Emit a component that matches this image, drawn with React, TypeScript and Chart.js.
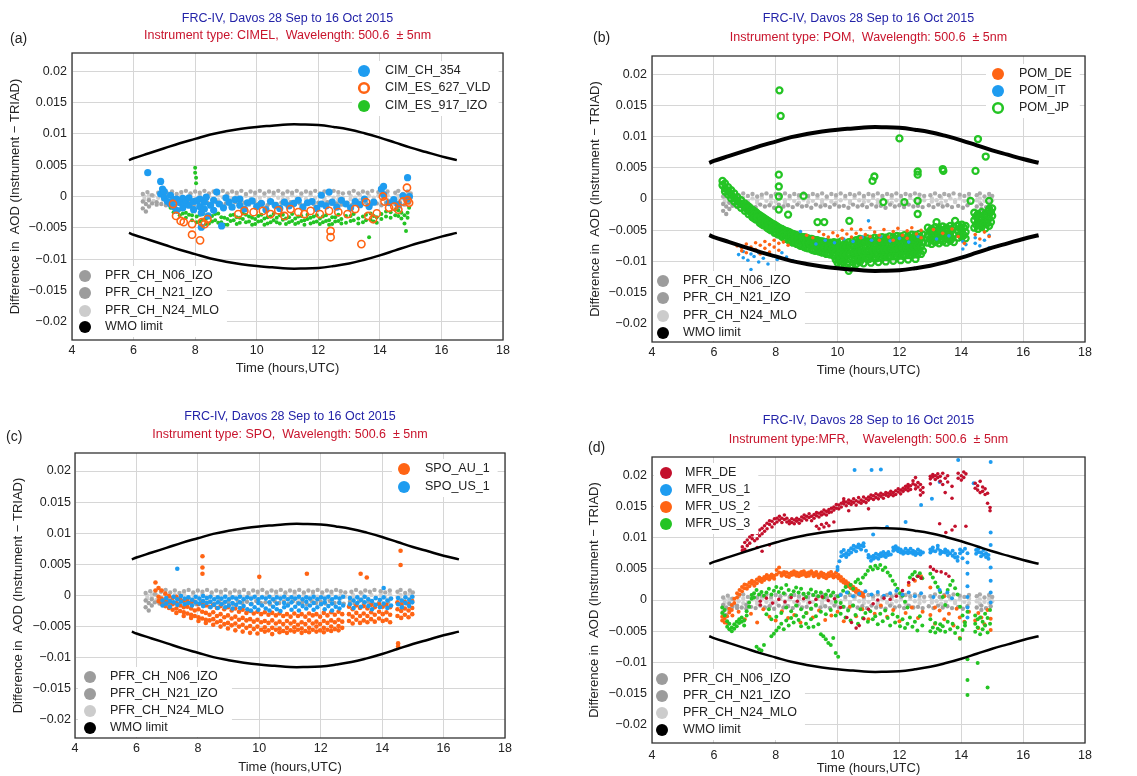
import React, { useEffect, useRef } from 'react';
import { Chart, registerables } from 'chart.js';
Chart.register(...registerables);

type Row = number[];

// ---------- axes ----------
const xTicks = [4, 6, 8, 10, 12, 14, 16, 18];
const xTickLabels = ['4', '6', '8', '10', '12', '14', '16', '18'];
const yTicks = [-0.02, -0.015, -0.01, -0.005, 0, 0.005, 0.01, 0.015, 0.02];
const yTickLabels = ['−0.02', '−0.015', '−0.01', '−0.005', '0', '0.005', '0.01', '0.015', '0.02'];
const yMin = -0.0229;
const yMax = 0.0229;

// ---------- WMO limit ----------
const wmoX = [5.85, 6, 6.5, 7, 7.5, 8, 8.5, 9, 9.5, 10, 10.5, 11, 11.5, 12, 12.5, 13, 13.5, 14, 14.5, 15, 15.5, 16, 16.5];
const wmoUpper = [.0058, .0061, .0069, .0077, .0085, .0092, .0099, .0104, .0108, .0111, .0113, .0115, .0115, .0114, .0111, .0107, .0101, .0094, .0086, .0078, .0071, .0064, .0058];
const wmoLower = [-.0058, -.0061, -.0069, -.0077, -.0085, -.0092, -.0099, -.0104, -.0108, -.0111, -.0113, -.0115, -.0115, -.0114, -.0111, -.0107, -.0101, -.0094, -.0086, -.0078, -.0071, -.0064, -.0058];

// ---------- reference PFR (rows: [hour, diff, diff...]) ----------
const pfrN06: Row[] = [[6.3,-.0008,-.0019],[6.4,-.0012,-.0024],[6.5,-.0006,-.0016],[6.6,-.0011],[6.75,-.0009,-.0013],[6.9,-.0012],[7.05,-.0008,-.0014],[7.2,-.0011],[7.35,-.0013],[7.5,-.0009],[7.65,-.0012],[7.8,-.001],[7.95,-.0014],[8.1,-.0009],[8.25,-.0012],[8.4,-.001],[8.55,-.0013],[8.7,-.0009],[8.85,-.0012],[9.0,-.0011],[9.15,-.0014],[9.3,-.0009],[9.45,-.0012],[9.6,-.001],[9.75,-.0013],[9.9,-.0009],[10.05,-.0012],[10.2,-.0011],[10.35,-.0014],[10.5,-.0009],[10.65,-.0012],[10.8,-.001],[10.95,-.0013],[11.1,-.0009],[11.25,-.0012],[11.4,-.0011],[11.55,-.0014],[11.7,-.0009],[11.85,-.0012],[12.0,-.001],[12.15,-.0013],[12.3,-.0009],[12.45,-.0012],[12.6,-.0011],[12.75,-.0013],[12.95,-.001],[13.1,-.0013],[13.25,-.0009],[13.4,-.0012],[13.55,-.001],[13.7,-.0013],[13.9,-.0011],[14.05,-.0014],[14.2,-.001],[14.5,-.0012],[14.65,-.0009,-.0016],[14.8,-.0013],[14.95,-.001]];
const pfrN21: Row[] = [[6.3,.0004],[6.45,.0007],[6.6,.0002],[6.8,.0006],[6.95,.0009],[7.1,.0005],[7.25,.0008],[7.4,.0004],[7.55,.0007],[7.7,.0009],[7.85,.0005],[8.0,.0008],[8.15,.0006],[8.3,.0009],[8.45,.0005],[8.6,.0008],[8.75,.0006],[8.9,.0009],[9.05,.0005],[9.2,.0008],[9.35,.0006],[9.5,.0009],[9.65,.0004],[9.8,.0008],[9.95,.0006],[10.1,.0009],[10.25,.0005],[10.4,.0008],[10.55,.0006],[10.7,.0009],[10.85,.0005],[11.0,.0008],[11.15,.0006],[11.3,.0009],[11.45,.0005],[11.6,.0008],[11.75,.0006],[11.9,.0009],[12.05,.0005],[12.2,.0008],[12.35,.0006],[12.5,.0009],[12.65,.0007],[12.8,.0005],[13.0,.0006],[13.15,.0009],[13.3,.0005],[13.45,.0008],[13.6,.0006],[13.75,.0009],[13.95,.0007],[14.1,.0005],[14.25,.0008],[14.5,.0006],[14.6,.0009],[14.75,.0004],[14.9,.0008],[15.0,.0005]];
const pfrN24: Row[] = [[6.35,0,-.0005],[6.5,-.0003,.0002],[6.65,.0001,-.0007],[6.8,-.0002],[6.95,.0002,-.0005],[7.1,-.0004],[7.25,.0001],[7.4,-.0002,-.0006],[7.55,.0002],[7.7,-.0003],[7.85,.0001,-.0006],[8.0,-.0004],[8.15,.0002],[8.3,-.0002,-.0006],[8.45,.0001],[8.6,-.0003],[8.75,.0002,-.0006],[8.9,-.0001],[9.05,.0001,-.0005],[9.2,-.0003],[9.35,.0002],[9.5,-.0002,-.0006],[9.65,.0001],[9.8,-.0004],[9.95,.0002,-.0006],[10.1,-.0002],[10.25,.0001],[10.4,-.0003,-.0006],[10.55,.0002],[10.7,-.0002],[10.85,.0001,-.0005],[11.0,-.0003],[11.15,.0002],[11.3,-.0002,-.0006],[11.45,.0001],[11.6,-.0004],[11.75,.0002,-.0006],[11.9,-.0002],[12.05,.0001],[12.2,-.0003,-.0006],[12.35,.0002],[12.5,-.0002],[12.65,.0001,-.0005],[12.8,-.0002],[13.05,.0001,-.0004],[13.2,-.0002],[13.35,.0002,-.0006],[13.5,-.0003],[13.65,.0001],[13.8,-.0002,-.0005],[13.95,.0001],[14.1,-.0003],[14.25,.0002,-.0005],[14.5,-.0002],[14.6,.0001,-.0006],[14.75,-.0003],[14.9,.0002,-.0005],[15.0,-.0002]];

// ---------- (a) CIMEL ----------
const cimCh354: Row[] = [[6.46,.0038],[6.88,.0024,.0004],[6.94,.0012],[7.0,.0008,-.0002],[7.1,-.0008],[7.2,.0002,-.0012],[7.3,-.0005,-.0016],[7.4,-.0004,-.0022],[7.5,-.001],[7.6,-.0003,-.0018],[7.7,-.0009],[7.8,-.0014,-.0002],[7.95,-.0021,-.0008],[8.05,-.0007],[8.15,-.0004,-.0016],[8.2,-.0026,-.0049],[8.3,-.0009,-.002],[8.36,-.0001],[8.42,-.0031],[8.5,-.0014],[8.6,-.0006,-.0022],[8.7,.0007],[8.78,-.0012],[8.86,-.0047],[8.92,-.0018],[9.0,-.0002],[9.1,-.0009],[9.2,-.0017],[9.3,-.0005],[9.45,-.0004,-.0014],[9.6,-.002],[9.7,-.001],[9.85,-.0007],[10.0,-.0016],[10.15,-.0011],[10.3,-.0021],[10.45,-.0008],[10.6,-.0014],[10.75,-.0019],[10.9,-.0009],[11.05,-.0015],[11.2,-.0011],[11.35,-.0006],[11.5,-.0017],[11.65,-.001],[11.8,-.0008],[11.95,-.0019],[12.1,.0002,-.0012],[12.25,-.0015],[12.35,.0007],[12.45,-.0009],[12.6,-.0017],[12.75,-.0006],[12.9,-.0012],[13.05,-.0018],[13.2,-.0008],[13.35,-.0013],[13.5,-.0004],[13.65,-.0016],[13.8,-.0009],[14.05,.0012],[14.12,.0016,.0003],[14.3,-.001],[14.45,-.0005],[14.6,-.0013],[14.75,.0001],[14.88,-.0004],[14.9,.003],[14.96,0]];
const cimEs627: Row[] = [[7.28,-.0012],[7.38,-.0031],[7.53,-.0039],[7.63,-.0041],[7.9,-.0044,-.0061],[8.16,-.007],[8.22,-.0041],[8.31,-.0044],[8.4,-.0036],[9.4,-.0028],[9.6,-.0023],[9.9,-.0025],[10.2,-.0023],[10.45,-.0028],[10.7,-.0022],[10.9,-.0031],[11.1,-.002],[11.35,-.0025],[11.55,-.0028],[11.75,-.0023],[12.05,-.0028],[12.35,-.0023],[12.4,-.0055,-.0065],[12.65,-.0025],[12.95,-.0028],[13.2,-.002],[13.4,-.0076],[13.55,-.0009],[13.62,-.0031],[13.78,-.0036],[13.9,-.0027],[14.1,0],[14.15,-.0008],[14.3,-.0018],[14.47,-.0016],[14.6,-.0021],[14.75,-.0008],[14.88,.0014],[14.9,-.0006],[14.95,-.001]];
const cimEs917: Row[] = [[7.05,-.0006],[7.15,-.0012],[7.2,-.0018],[7.3,-.0025,-.0017],[7.4,-.0022],[7.5,-.003,-.0021],[7.6,-.0027],[7.7,-.0034,-.0026],[7.8,-.0029],[7.9,-.0038,-.003],[8.0,.0046,.0038],[8.03,.003,.0021],[8.05,-.0032,-.0041],[8.15,-.004,-.0029],[8.25,-.0028,-.0037],[8.35,-.0036,-.0044],[8.45,-.0043,-.0033],[8.55,-.0031,-.004],[8.65,-.0038,-.0028],[8.75,-.0027,-.0042],[8.85,-.0041,-.0033],[8.95,-.0034,-.0045],[9.05,-.0045,-.0036],[9.15,-.003,-.0039],[9.25,-.0038,-.0029],[9.35,-.0033,-.0044],[9.45,-.0042,-.0034],[9.55,-.0036,-.0027],[9.65,-.0029,-.0041],[9.75,-.004,-.0032],[9.85,-.0034,-.0045],[9.95,-.0044,-.0036],[10.05,-.0031,-.004],[10.15,-.0039,-.0029],[10.25,-.0035,-.0045],[10.35,-.0043,-.0033],[10.45,-.0032,-.0041],[10.55,-.0038,-.0028],[10.65,-.0041,-.0034],[10.75,-.003,-.0043],[10.85,-.0037,-.0029],[10.95,-.0044,-.0035],[11.05,-.0033,-.0041],[11.15,-.0039,-.0028],[11.25,-.0035,-.0044],[11.35,-.0042,-.0032],[11.45,-.0031,-.0039],[11.55,-.0038,-.0045],[11.65,-.0036,-.0029],[11.75,-.0043,-.0034],[11.85,-.0032,-.0041],[11.95,-.004,-.003],[12.05,-.0035,-.0044],[12.15,-.0041,-.0032],[12.25,-.003,-.0039],[12.35,-.0038,-.0045],[12.45,-.0044,-.0033],[12.55,-.0033,-.004],[12.65,-.0039,-.0029],[12.75,-.0036,-.0043],[12.9,-.0042,-.0031],[13.05,-.0031,-.0039],[13.15,-.0038,-.0028],[13.3,-.0035,-.0043],[13.45,-.0041,-.0032],[13.55,-.0029,-.0038],[13.65,-.0065],[13.7,-.0037,-.0027],[13.8,-.004,-.0031],[13.9,-.0033,-.0042],[14.05,-.0028,-.0036],[14.2,-.0032,-.0024],[14.35,-.0025,-.0034],[14.5,-.003,-.0021],[14.6,-.0022,-.0031],[14.7,-.0035,-.0026],[14.8,-.0043,-.003],[14.85,-.0055],[14.9,-.0026,-.0034],[14.95,-.0018]];

// ---------- (b) POM ----------
const pomDe: Row[] = [[6.75,-.0075],[6.9,-.0078,-.0083],[7.05,-.0072,-.0086],[7.2,-.0077],[7.35,-.007,-.0081],[7.5,-.0074,-.0088],[7.65,-.0068,-.0079],[7.8,-.0073,-.0085],[7.95,-.0066,-.0077],[8.1,-.0071,-.0082],[8.25,-.0069],[8.4,-.0074],[9.0,-.0058],[9.2,-.0062],[9.4,-.0052],[9.55,-.0057],[9.7,-.0061],[9.85,-.0054],[10.0,-.0059],[10.15,-.005,-.0063],[10.3,-.0056],[10.45,-.0048,-.0061],[10.6,-.0055],[10.75,-.0049,-.0062],[10.9,-.0057],[11.05,-.0046,-.006],[11.2,-.0053],[11.35,-.0058,-.0066],[11.5,-.0049],[11.65,-.0061],[11.8,-.0052,-.0066],[11.95,-.0047],[12.1,-.0058],[12.25,-.0051,-.0063],[12.4,-.0046],[12.55,-.0056],[12.7,-.005,-.0062],[13.1,-.0049],[13.4,-.0055],[13.7,-.0048],[13.9,-.006],[14.0,-.0094],[14.1,-.0071],[14.45,-.0057],[14.6,-.0064],[14.75,-.0053],[14.9,-.006]];
const pomIt: Row[] = [[6.8,-.0089],[6.95,-.0094,-.0084],[7.1,-.0098],[7.2,-.0113,-.0088],[7.3,-.0092],[7.45,-.0101,-.0086],[7.6,-.0095],[7.75,-.0088,-.0104],[7.9,-.0091],[8.05,-.0097],[8.2,-.0086],[8.35,-.0093],[8.55,-.0099],[8.8,-.0052],[9.3,-.0072],[9.6,-.0066],[9.9,-.007],[10.2,-.0064],[10.5,-.0068],[10.8,-.0061],[11.0,-.0035],[11.1,-.0066],[11.4,-.006],[11.7,-.0067],[12.0,-.0063],[12.3,-.0069],[12.6,-.006],[13.2,-.0064],[13.6,-.0059],[14.05,-.0068,-.008],[14.15,-.0073],[14.45,-.0062,-.0071],[14.6,-.0075],[14.75,-.0066],[14.9,-.0058,-.0078]];
const pomJp: Row[] = [[6.28,.0029,.0022],[6.36,.0025,.0017,.0012],[6.46,.0019,.0013,.0007],[6.56,.0014,.0007,.0001],[6.66,.0009,.0002,-.0004],[6.76,.0003,-.0003,-.0009],[6.88,-.0002,-.0008,-.0014],[7.0,-.0007,-.0013,-.0019],[7.12,-.0012,-.0018,-.0024],[7.24,-.0017,-.0023,-.0029],[7.36,-.0021,-.0027,-.0033],[7.48,-.0026,-.0032,-.0038],[7.6,-.003,-.0036,-.0042],[7.72,-.0034,-.004,-.0046],[7.84,-.0038,-.0044,-.005],[7.96,-.0041,-.0047,-.0054],[8.08,-.0045,-.0051,-.0057],[8.2,-.0048,-.0054,-.006],[8.32,-.0051,-.0057,-.0064],[8.44,-.0053,-.006,-.0067],[8.56,-.0056,-.0063,-.007],[8.68,-.0058,-.0065,-.0072],[8.8,-.006,-.0067,-.0075],[8.92,-.0061,-.0069,-.0077],[9.04,-.0063,-.0071,-.0079],[9.16,-.0064,-.0072,-.0081],[9.28,-.0066,-.0074,-.0083],[9.4,-.0067,-.0075,-.0084],[9.52,-.0068,-.0077,-.0086],[9.64,-.0069,-.0078,-.0088],[9.76,-.007,-.0079,-.0089],[9.88,-.0069,-.008,-.0091],[10.0,-.007,-.0081,-.0093,-.0102],[10.12,-.0068,-.0082,-.0094,-.0105],[10.24,-.0071,-.0083,-.0095,-.0108],[10.36,-.0069,-.0082,-.0096,-.0115],[10.48,-.0067,-.0081,-.0094,-.0106],[10.6,-.0066,-.0079,-.0092,-.0104],[10.72,-.0064,-.0078,-.0091,-.0101],[10.84,-.0065,-.0077,-.009,-.0103],[10.96,-.0063,-.0076,-.0089],[11.08,-.0064,-.0077,-.009,-.0102],[11.2,-.0062,-.0075,-.0088],[11.32,-.0063,-.0076,-.0089,-.0101],[11.44,-.0061,-.0074,-.0087],[11.56,-.0062,-.0075,-.0088,-.01],[11.68,-.006,-.0073,-.0086],[11.8,-.0061,-.0074,-.0087,-.0099],[11.92,-.0059,-.0072,-.0085],[12.04,-.006,-.0073,-.0086,-.0098],[12.16,-.0058,-.0071,-.0084],[12.28,-.0059,-.0072,-.0085,-.0097],[12.4,-.0057,-.007,-.0083],[12.52,-.0058,-.0071,-.0084,-.0096],[12.64,-.0056,-.0069,-.0082],[12.76,-.0057,-.007,-.0083],[12.92,-.0046,-.0058,-.007],[13.04,-.0048,-.006,-.0072],[13.16,-.0045,-.0057,-.0069],[13.28,-.0047,-.0059,-.0071],[13.4,-.0044,-.0056,-.0068],[13.52,-.0046,-.0058,-.007],[13.64,-.0043,-.0055,-.0067],[13.76,-.0045,-.0057,-.0069],[13.9,-.0042,-.0052,-.0062],[14.02,-.0041,-.0051,-.0061],[14.14,-.0043,-.0053,-.0063],[14.42,-.0022,-.0034,-.0046],[14.54,-.0024,-.0036,-.0048],[14.66,-.0021,-.0033,-.0045],[14.78,-.0023,-.0035,-.0047],[14.9,-.0019,-.0031,-.0043],[15.0,-.0015,-.0027],
  [7.06,-.001,-.0016],[7.18,-.0015,-.0021],[7.3,-.0019,-.0025,-.0031],[7.42,-.0024,-.003],[7.54,-.0028,-.0034,-.004],[7.66,-.0032,-.0038],[7.78,-.0036,-.0042,-.0048],[7.9,-.004,-.0046],[8.02,-.0043,-.0049,-.0055],[8.14,-.0047,-.0053],[8.26,-.005,-.0056,-.0062],[8.38,-.0052,-.0058],[8.5,-.0055,-.0061,-.0068],[8.62,-.0057,-.0064],[8.74,-.0059,-.0066,-.0073],[8.86,-.0061,-.0068],[8.98,-.0062,-.007,-.0078],[9.1,-.0064,-.0072],[9.22,-.0065,-.0073,-.0082],[9.34,-.0066,-.0075],[9.46,-.0068,-.0076,-.0085],[9.58,-.0069,-.0078],[9.7,-.007,-.0079,-.0088],[9.82,-.0071,-.008],[9.94,-.0075,-.0086,-.0097],[10.06,-.0076,-.0088,-.0099],[10.18,-.0077,-.0089,-.0101],[10.3,-.0076,-.0089,-.0103],[10.42,-.0074,-.0088,-.011],[10.54,-.0073,-.0086,-.0099],[10.66,-.0071,-.0085,-.0097],[10.78,-.007,-.0084,-.0096],[10.9,-.0069,-.0083,-.0095],[11.02,-.0069,-.0083,-.0096],[11.14,-.0068,-.0082,-.0094],[11.26,-.0069,-.0082,-.0095],[11.38,-.0067,-.0081,-.0094],[11.5,-.0068,-.0081,-.0093],[11.62,-.0066,-.008,-.0093],[11.74,-.0067,-.008,-.0092],[11.86,-.0065,-.0079,-.0092],[11.98,-.0066,-.0079,-.0091],[12.1,-.0064,-.0078,-.0091],[12.22,-.0065,-.0078,-.009],[12.34,-.0063,-.0077,-.009],[12.46,-.0064,-.0077,-.0089],[12.58,-.0062,-.0076,-.0089],[12.7,-.0063,-.0076,-.0088],[12.98,-.0052,-.0064],[13.1,-.0051,-.0066],[13.22,-.0051,-.0063],[13.34,-.005,-.0065],[13.46,-.005,-.0062],[13.58,-.0049,-.0064],[13.7,-.0049,-.0063],[13.96,-.0047,-.0057],[14.08,-.0046,-.0058],[14.48,-.0028,-.0041],[14.6,-.003,-.0042],[14.72,-.0027,-.004],[14.84,-.0026,-.0039],[14.96,-.0021,-.0037],
  [8.12,.0174],[8.16,.0133],[8.1,.0039,.002,.0004,-.0017],[8.4,-.0025],[8.9,.0005],[9.35,-.0037],[9.57,-.0037],[10.38,-.0035],[11.13,.0029],[11.19,.0036],[12.0,.0097],[11.48,-.0005],[12.16,-.0005],[12.59,.0044,.0039,-.0003,-.0024],[13.4,.0048],[13.42,.0045],[13.2,-.0037],[13.8,-.0035],[14.46,.0045],[14.54,.0096],[14.79,.0068],[14.3,-.0003],[14.9,-.0016,-.0003]];

// ---------- (c) SPO ----------
const spoAu1: Row[] = [[6.62,.0021,.0008],[6.72,.0012,-.0002,-.0009],[6.82,.0008,-.0005,-.0013],[6.94,.0003,-.0008,-.0017],[7.06,-.0001,-.0011,-.002],[7.18,-.0004,-.0014,-.0023],[7.3,-.0002,-.0012,-.0021,-.0028],[7.42,-.0006,-.0016,-.0025],[7.54,-.0009,-.0019,-.0027,-.0033],[7.66,-.0007,-.0018,-.0029],[7.78,-.0011,-.0021,-.0031,-.0036],[7.9,-.001,-.0024,-.0033],[8.02,-.0014,-.0022,-.0035,-.0041],[8.14,-.0012,-.0026,-.0037],[8.26,-.0016,-.0028,-.0039,-.0044],[8.38,-.0018,-.0031,-.004],[8.5,-.0015,-.0027,-.0038,-.0047],[8.62,-.002,-.0033,-.0043],[8.74,-.0017,-.003,-.0041,-.005],[8.86,-.0022,-.0035,-.0046],[8.98,-.0019,-.0032,-.0044,-.0053],[9.1,-.0024,-.0037,-.0048],[9.22,-.0021,-.0034,-.0045,-.0056],[9.34,-.0026,-.0039,-.005],[9.46,-.0023,-.0036,-.0047,-.0058],[9.58,-.0028,-.004,-.0052],[9.7,-.0025,-.0038,-.0049,-.006],[9.82,-.0029,-.0042,-.0054],[9.94,-.0026,-.0039,-.005,-.0061],[10.06,-.003,-.0043,-.0055],[10.18,-.0027,-.0041,-.0051,-.0058],[10.3,-.0031,-.0044,-.0056],[10.42,-.0028,-.004,-.0052,-.0062],[10.54,-.0032,-.0045,-.0055],[10.66,-.0029,-.0042,-.0053,-.0059],[10.78,-.0033,-.0046,-.0057],[10.9,-.003,-.0041,-.0052,-.006],[11.02,-.0034,-.0045,-.0056],[11.14,-.0029,-.0042,-.0051,-.0058],[11.26,-.0033,-.0047,-.0055],[11.38,-.003,-.0043,-.0053,-.006],[11.5,-.0034,-.0046,-.0057],[11.62,-.0029,-.004,-.0052,-.0059],[11.74,-.0032,-.0045,-.0055],[11.86,-.003,-.0042,-.005,-.0058],[11.98,-.0034,-.0046,-.0056],[12.1,-.0028,-.0041,-.0052,-.0059],[12.22,-.0032,-.0044,-.0055],[12.34,-.0027,-.004,-.005,-.0057],[12.46,-.0031,-.0043,-.0054],[12.58,-.0026,-.0039,-.0049,-.0056],[12.7,-.003,-.0042,-.0052],[12.92,-.0018,-.003,-.0041],[13.04,-.0022,-.0034,-.0045],[13.16,-.0016,-.0028,-.0039],[13.28,-.002,-.0033,-.0044],[13.4,-.0017,-.0029,-.004],[13.52,-.0021,-.0033,-.0043],[13.64,-.0015,-.0027,-.0038],[13.76,-.0019,-.0031,-.0042],[13.9,-.0014,-.0026,-.0037],[14.02,-.0018,-.003,-.0041],[14.14,-.0015,-.0027,-.0039],[14.26,-.0019,-.0031,-.0043],[14.5,-.0011,-.0022,-.0033],[14.62,-.0014,-.0025,-.0036],[14.74,-.001,-.0021,-.0031],[14.86,-.0013,-.0024,-.0035],[14.98,-.0009,-.002,-.003],[8.15,.0063,.0045,.0035],[10.0,.003],[11.55,.0035],[13.3,.0035],[13.5,.0029],[14.6,.0072,.0049],[14.52,-.0077,-.0082]];
const spoUs1: Row[] = [[6.85,-.0008,-.0016],[6.97,-.0004,-.0013],[7.09,-.0009,-.0018],[7.21,-.0002,-.0011],[7.33,-.0006,-.0015,.0043],[7.45,-.0001,-.001],[7.57,-.0005,-.0014],[7.69,-.0003,-.0012],[7.81,-.0007,-.0016],[7.93,-.0002,-.0011],[8.05,-.0005,-.0013],[8.17,-.0001,-.0009,-.0017],[8.29,-.0004,-.0012],[8.41,-.0002,-.001,-.0019],[8.53,-.0006,-.0015],[8.65,-.0003,-.0011,-.002],[8.77,-.0005,-.0014],[8.89,-.0002,-.001,-.0019],[9.01,-.0006,-.0016],[9.13,-.0003,-.0012,-.0021],[9.25,-.0005,-.0015],[9.37,-.0002,-.0011,-.002],[9.49,-.0006,-.0017],[9.61,-.0003,-.0022],[9.73,-.0005,-.0014,-.0024],[9.85,-.0002,-.0019],[9.97,-.0006,-.0012,-.0023],[10.09,-.0003,-.0016],[10.21,-.0005,-.0021],[10.33,-.0002,-.0011,-.0024],[10.45,-.0006,-.0018],[10.57,-.0003,-.0013,-.0022],[10.69,-.0005,-.0025],[10.81,-.0002,-.0012,-.0019],[10.93,-.0006,-.0016],[11.05,-.0003,-.0011,-.0023],[11.17,-.0005,-.0018],[11.29,-.0002,-.0013,-.0024],[11.41,-.0006,-.0017],[11.53,-.0003,-.001,-.0021],[11.65,-.0005,-.0016],[11.77,-.0002,-.0012,-.0023],[11.89,-.0006,-.0019],[12.01,-.0003,-.0014],[12.13,-.0005,-.0011,-.0022],[12.25,-.0002,-.0017],[12.37,-.0006,-.0013,-.0024],[12.49,-.0003,-.0018],[12.61,-.0005,-.0012,-.0021],[12.73,-.0002,-.0016],[12.95,-.0004,-.0014],[13.07,-.0008,-.002],[13.19,-.0003,-.0012],[13.31,-.0007,-.0018],[13.43,-.0002,-.0011],[13.55,-.0006,-.0017],[13.67,-.0009,-.0022],[13.79,-.0004,-.0015],[13.93,-.0007,-.0019],[14.05,-.0003,-.0013,.0012],[14.17,-.0008,-.002],[14.29,-.0005,-.0016],[14.52,-.0004,-.0014],[14.64,-.0008,-.0019],[14.76,-.0003,-.0012],[14.88,-.0007,-.0017],[14.98,-.0002,-.0011]];

// ---------- (d) MFR ----------
const mfrDe: Row[] = [[6.92,.0085,.0079],[7.0,.0092,.0081],[7.08,.0096,.0087],[7.16,.0101,.0091],[7.24,.0098,.0104],[7.32,.0108,.0095],[7.4,.0107,.0098,.0084],[7.48,.0112,.0103],[7.56,.0115,.0106,.0078],[7.64,.0119,.011],[7.72,.0123,.0114],[7.8,.0121,.0127,.0088],[7.88,.0126,.0117],[7.96,.013,.0122],[8.04,.0131,.0125],[8.12,.0128,.0134],[8.2,.0131,.0124],[8.28,.0129,.0136],[8.36,.0131,.0125],[8.44,.0127,.0122],[8.52,.0124,.013],[8.6,.0122,.0128],[8.68,.0126,.0131],[8.76,.0129,.0123],[8.84,.0133,.0127],[8.92,.0131,.0136],[9.0,.0128,.0134],[9.08,.0132,.0138],[9.16,.0134,.0127],[9.24,.0137,.0131],[9.32,.0135,.014,.0118],[9.4,.0139,.0133,.0114],[9.48,.0141,.0136,.0121],[9.56,.0138,.0144,.0117],[9.64,.0142,.0136,.0123],[9.72,.0145,.014,.0119],[9.8,.0141,.0147],[9.88,.0144,.0149,.0125],[9.96,.0147,.0153],[10.04,.0152,.0146],[10.12,.0149,.0155],[10.2,.0154,.0158,.0162],[10.28,.0151,.0157],[10.36,.0155,.016,.0143],[10.44,.0158,.0153],[10.52,.0156,.0162],[10.6,.0152,.0159],[10.68,.0157,.0164],[10.76,.016,.0155],[10.84,.0158,.0165],[10.92,.0162,.0156],[11.0,.0165,.016,.0146],[11.08,.0163,.0168],[11.16,.0167,.0161],[11.24,.0164,.017],[11.32,.0168,.0162],[11.4,.0166,.0171],[11.48,.0163,.0169],[11.56,.0168,.0172],[11.64,.0171,.0166],[11.72,.0169,.0174],[11.8,.0172,.0167],[11.88,.0175,.0169],[11.96,.0173,.0178],[12.04,.0176,.017],[12.12,.0179,.0174],[12.2,.0177,.0182],[12.28,.018,.0185,.0175],[12.36,.0183,.0177],[12.44,.0186,.0191],[12.52,.0184,.0196,.0178],[12.6,.0188,.0181],[12.68,.0176,.0168,.0185],[12.76,.018,.0172],[13.0,.0194,.0198,.0186],[13.08,.0197,.0201],[13.16,.0193,.0199],[13.24,.0196,.0202],[13.32,.019,.0198],[13.4,.0203,.0185],[13.48,.0195,.0172],[13.56,.0189,.0199],[13.7,.0182,.0163,.0112],[13.8,.0118],[13.9,.0195,.0203],[14.0,.0199,.0192],[14.08,.0205,.0196],[14.15,.0202,.0118],[14.45,.0187,.0179],[14.53,.0183,.0176],[14.61,.019,.0172],[14.69,.0181,.0174],[14.77,.0178,.0169],[14.85,.0171,.0155],[14.93,.0148,.0143],[7.5,-.0002,-.0008],[7.7,.0003],[7.9,-.0005],[8.1,.0001],[8.3,-.0003],[8.5,.0004],[8.7,-.0002],[8.9,.0002],[9.1,-.0004],[9.3,.0001],[9.5,.0005],[9.7,-.0001],[9.9,.0002],[10.1,-.0012],[10.3,-.0028],[10.45,-.0036],[10.6,-.0045],[10.7,-.0041],[10.85,-.003],[11.0,-.0015],[11.15,-.0006],[11.3,0],[11.5,.0003],[11.7,.0001],[11.9,.0006],[12.1,.0015],[12.3,.0028],[12.45,.0033],[12.6,.0038],[12.7,.0035],[13.0,.0053],[13.1,.0049],[13.2,.0046],[13.35,.0045],[13.5,.0042],[13.6,.0038],[13.3,.0122],[13.5,.0108]];
const mfrUs1: Row[] = [[10.0,.0048,.0053],[10.06,.0062],[10.12,.007,.0077],[10.2,.0072,.008],[10.28,.0075,.0069],[10.36,.0079,.0073],[10.44,.0083,.0076],[10.52,.0081,.0087],[10.6,.0078,.0085],[10.68,.0084,.0089],[10.76,.0087,.0081],[10.84,.0091,.0086],[10.92,.0079],[11.0,.0072,.0068],[11.08,.0069,.0063],[11.16,.0071,.0066],[11.24,.0068,.0074],[11.32,.0072,.0066],[11.4,.0075,.007],[11.48,.0071,.0077],[11.56,.0074,.0069],[11.64,.0077,.0072],[11.72,.0073],[11.8,.0079,.0084],[11.88,.0086,.0081],[11.96,.0083,.0078],[12.04,.0081,.0076],[12.12,.0078,.0074],[12.2,.0076,.0082],[12.28,.0079,.0075],[12.36,.0082,.0076],[12.44,.0074,.0079],[12.52,.0077,.0072],[12.6,.0075,.0081],[12.68,.0078,.0073],[12.76,.0076],[13.0,.0081,.0076],[13.08,.0084,.0079],[13.16,.0078],[13.24,.0082,.0087],[13.32,.0079,.0074],[13.4,.0077],[13.48,.0081,.0076],[13.56,.0078,.0072],[13.64,.0075],[13.72,.0079,.0071],[13.8,.0068,.0074],[13.88,.0063,.0069],[13.96,.0075,.0081],[14.04,.0078,.0067],[14.12,.0082],[14.2,.0075,.006,.0042,.0022,.0005,-.0012,-.0028],[14.48,.008,.0074],[14.56,.0083,.0077],[14.64,.0076,.007],[14.72,.008,.0073],[14.8,.0075,.0069],[14.88,.0072,.0066],[14.95,.0221,.0108,.0088,.0052,.0031,.0012,-.0004],[10.1,.0008],[10.3,.0012],[10.5,.0006],[10.7,.001],[10.9,.0014],[11.1,.0009],[11.3,.0013],[11.5,.0007],[11.7,.0011],[11.9,.0015],[12.1,.0009],[12.3,.0012],[12.5,.0006],[12.7,.0011],[13.1,.0005],[13.3,.0016],[13.55,.0012],[13.7,.0003],[10.55,.0208],[11.1,.0208],[11.4,.0209],[11.15,.0105],[11.6,.0117],[12.7,.0152],[13.3,.0189],[13.9,.0224],[14.4,.0187],[13.05,.0162],[12.2,.0125]];
const mfrUs2: Row[] = [[6.27,-.0027,-.0033],[6.35,-.0036,-.003],[6.43,-.0037,-.0026],[6.5,-.002,-.0014],[6.58,-.0008,-.0016],[6.66,.0002,-.0005],[6.75,.0011,.0004],[6.83,.0016,.0009],[6.91,.0021,.0014],[6.99,.0019,.0025],[7.07,.0024,.0018],[7.15,.0028,.0022],[7.23,.0026,.0031],[7.31,.0029,.0023],[7.39,.0033,.0027],[7.47,.0031,.0036],[7.55,.0034,.0029],[7.63,.0037,.0032],[7.71,.0035,.004],[7.79,.0033,.0038],[7.87,.0036,.0041],[7.95,.0039,.0034],[8.03,.0048,.0041],[8.11,.0044,.0052],[8.19,.0043,.0039],[8.27,.0045,.0041],[8.35,.0038,.0044],[8.43,.0042,.0037],[8.51,.0044,.004],[8.59,.0041,.0046],[8.67,.0039,.0044],[8.75,.0043,.0038],[8.83,.0045,.004],[8.91,.0041,.0046],[8.99,.0038,.0043],[9.07,.0044,.0039],[9.15,.0042,.0046],[9.23,.0038,.0043],[9.31,.0045,.004],[9.39,.0041,.0036],[9.47,.0039,.0044],[9.55,.0037,.0042],[9.63,.004,.0035],[9.71,.0043,.0038],[9.79,.0039,.0045],[9.87,.0036,.0041],[9.95,.0038,.0044],[10.03,.0035,.004],[10.11,.0037,.0031],[10.19,.0033,.0028],[10.27,.003,.0025],[10.35,.0027,.0022],[10.43,.0024,.0019],[10.51,.0021,.0016],[10.59,.0018,.0013],[10.67,.0015,.001],[10.75,.0012,.0008],[10.83,.0011,.0006],[6.6,-.0025],[6.8,-.0019],[7.0,-.0031],[7.2,-.0022],[7.4,-.0036],[7.6,-.0015],[7.8,-.0027],[8.0,-.0033],[8.2,-.0018],[8.4,-.0029],[8.6,-.0024],[8.8,-.0036],[9.0,-.0021],[9.2,-.0028],[9.4,-.0017],[9.6,-.0032],[9.8,-.0025],[10.0,-.0019],[10.2,-.0034],[10.4,-.0011],[10.6,-.0026],[10.8,-.0015],[11.0,-.0031],[11.2,-.0022],[11.4,-.0009],[11.6,-.0027],[11.8,-.0016],[12.0,-.0034],[12.2,-.0021],[12.3,.0024],[12.4,-.0012],[12.5,.0031],[12.6,-.0029],[12.7,.0038],[12.75,-.0019],[13.0,-.0024,.002],[13.15,-.0038,-.0012],[13.3,-.0017],[13.45,-.0031,.0006],[13.6,-.0022],[13.75,-.0041],[13.85,-.0014],[13.95,-.0028,-.0061],[14.1,-.0035],[14.25,-.0019],[14.45,-.0033],[14.55,-.0045,-.0021],[14.65,-.0028],[14.75,-.0039],[14.85,-.0016],[14.95,-.0048,-.003]];
const mfrUs3: Row[] = [[6.27,-.0012,-.0021],[6.35,-.0025,-.0016],[6.43,-.0034,-.0043],[6.5,-.0047,-.0038],[6.58,-.0044,-.005],[6.66,-.0039,-.0046],[6.74,-.0042,-.0035],[6.82,-.0037,-.0031],[6.9,-.0028,-.0035],[6.98,-.0033,-.0041],[7.06,-.0025,-.0018],[7.14,-.0011,-.0004],[7.22,.0002,.0008],[7.3,.0011,.0004],[7.38,-.0075,.0016],[7.46,-.0079,.0009],[7.54,-.0081,.0013],[7.62,-.0072,.0007],[7.7,.0012,-.0023],[7.78,.0018,-.0015],[7.86,.0009,-.0058,-.0031],[7.94,.0015,-.0054],[8.02,.0021,-.0049,-.0027],[8.1,.0013,-.0044],[8.18,.0019,-.0038,-.0021],[8.26,.0011,-.0047],[8.34,.0024,-.0033,-.0012],[8.42,.0016,-.0041],[8.5,.0008,-.0029,-.0018],[8.58,.0014,-.0036],[8.66,.002,-.0025,-.0009],[8.74,.0012,-.0032],[8.82,.0018,-.0042,-.0015],[8.9,.001,-.0027],[8.98,.0005,-.0038,-.0021],[9.06,.0011,-.0044],[9.14,.0017,-.0031,-.0014],[9.22,.0008,-.0043],[9.3,.0013,-.0026,-.0008],[9.38,.0006,-.0039],[9.46,.0012,-.0055,-.0019],[9.54,.0004,-.0058],[9.62,.0009,-.0063,-.0023],[9.7,.0015,-.0069],[9.78,.0007,-.0072,-.0016],[9.86,.0012,-.0061],[9.94,-.0003,-.0085,-.0025],[10.02,.0006,-.0091],[10.1,-.0005,-.0022],[10.18,.0015,-.0011],[10.26,.0021,-.0028],[10.34,.0012,-.0017],[10.42,.0024,-.0033],[10.5,.0018,-.0009],[10.58,.0029,-.0024],[10.66,.0033,-.0038],[10.74,.0027,-.0015],[10.82,.0036,-.0029],[10.9,.0041,-.0021],[10.98,.0047,-.0035],[11.06,.0053,-.0018],[11.14,.0049,-.0031],[11.22,.0055,-.0026],[11.3,.0051,-.0039],[11.38,.0056,-.0022],[11.46,.0048,-.0034],[11.54,.0052,-.0017],[11.62,.0044,-.0029],[11.7,.0039,-.0041],[11.78,.0031,-.0023],[11.86,.0025,-.0036],[11.94,.0018,-.0027],[12.02,.0011,-.0042],[12.1,.0007,-.0031],[12.18,-.0003,-.0045],[12.26,-.0012,-.0038],[12.34,.0036,-.0028],[12.42,.0041,-.0043],[12.5,.0045,-.0035],[12.58,.0038,-.0049],[12.66,.0043,-.0026],[12.74,.0035,-.0041],[13.0,.0042,-.0031,-.005],[13.08,.0036,-.0044],[13.16,.0028,-.0037,-.0052],[13.24,.0021,-.0046],[13.32,.0013,-.0039,-.0049],[13.4,.0005,-.0042],[13.48,-.0008,-.0051],[13.56,.0016,-.0035],[13.64,.0024,-.0047],[13.72,.0031,-.0038],[13.8,.0019,-.0053],[13.88,.0009,-.0044],[13.96,-.0011,-.0062],[14.04,-.0025,-.0048],[14.12,-.0041,-.0036],[14.2,-.0019,-.0128,-.0152,-.0095],[14.45,-.0038,-.0025,-.0051],[14.53,-.0044,-.0101,-.0031],[14.61,-.0028,-.0055],[14.69,-.0035,-.0047],[14.77,-.0041,-.0022],[14.85,-.0029,-.014,-.0052],[14.93,-.0038,-.0016]];

// ---------- styling ----------
const FONT = '"Liberation Sans", Arial, Helvetica, sans-serif';
const TXT = '#222222';
const GRID = '#d6d6d6';
const BLUE = '#1e9cf0';
const ORANGE = '#ff6414';
const GREEN = '#24c424';
const CRIMSON = '#c3102c';
const GRAY1 = '#a2a2a2';
const GRAY2 = '#ababab';
const GRAY3 = '#d0d0d0';
const TITLE_BLUE = '#2323a8';
const TITLE_RED = '#c8142c';

const pts = (rows: Row[]) => rows.flatMap(([x, ...ys]) => ys.map((y) => ({ x, y })));

type Series = { label: string; rows: Row[]; color: string; r: number; ring?: boolean; bw?: number; order: number };
type LegendItem = { label: string; color: string; ring?: boolean };
type LegendBox = { mx: number; tx: number; ys: number[]; items: LegendItem[] };
type PanelCfg = {
  left: number; top: number; w: number; h: number;
  area: { l: number; r: number; t: number; b: number };
  t1y: number; t2y: number; title2: string;
  letter: string; lx: number; ly: number;
  yTitlePad: number; xTitlePad: number; xTickPad: number; yTickPad: number;
  wmoW: number;
  series: Series[];
  legends: LegendBox[];
};

const pfrSeries: Series[] = [
  { label: 'PFR_CH_N06_IZO', rows: pfrN06, color: GRAY1, r: 2.2, order: 20 },
  { label: 'PFR_CH_N21_IZO', rows: pfrN21, color: GRAY2, r: 2.2, order: 21 },
  { label: 'PFR_CH_N24_MLO', rows: pfrN24, color: GRAY3, r: 2.2, order: 22 },
];
const pfrLegend: LegendItem[] = [
  { label: 'PFR_CH_N06_IZO', color: '#9c9c9c' },
  { label: 'PFR_CH_N21_IZO', color: '#9c9c9c' },
  { label: 'PFR_CH_N24_MLO', color: '#cccccc' },
  { label: 'WMO limit', color: '#000000' },
];

const panels: PanelCfg[] = [
  {
    left: 0, top: 0, w: 568, h: 388, area: { l: 72, r: 503, t: 53, b: 340 },
    t1y: 19, t2y: 36, title2: 'Instrument type: CIMEL,  Wavelength: 500.6  ± 5nm',
    letter: '(a)', lx: 10, ly: 39, yTitlePad: 8, xTitlePad: 12, xTickPad: 3, yTickPad: 5, wmoW: 2.5,
    series: [
      { label: 'CIM_ES_627_VLD', rows: cimEs627, color: ORANGE, r: 3.6, ring: true, bw: 1.6, order: 1 },
      { label: 'CIM_CH_354', rows: cimCh354, color: BLUE, r: 3.6, order: 2 },
      { label: 'CIM_ES_917_IZO', rows: cimEs917, color: GREEN, r: 2, order: 3 },
      ...pfrSeries,
    ],
    legends: [
      { mx: 364, tx: 385, ys: [71, 88, 106], items: [
        { label: 'CIM_CH_354', color: BLUE },
        { label: 'CIM_ES_627_VLD', color: ORANGE, ring: true },
        { label: 'CIM_ES_917_IZO', color: GREEN },
      ] },
      { mx: 85, tx: 105, ys: [276, 293, 311, 327], items: pfrLegend },
    ],
  },
  {
    left: 570, top: 0, w: 567, h: 388, area: { l: 82, r: 515, t: 56, b: 342 },
    t1y: 19, t2y: 38, title2: 'Instrument type: POM,  Wavelength: 500.6  ± 5nm',
    letter: '(b)', lx: 23, ly: 38, yTitlePad: 18, xTitlePad: 10, xTickPad: 3, yTickPad: 5, wmoW: 4,
    series: [
      { label: 'POM_DE', rows: pomDe, color: ORANGE, r: 1.8, order: 1 },
      { label: 'POM_IT', rows: pomIt, color: BLUE, r: 1.8, order: 2 },
      { label: 'POM_JP', rows: pomJp, color: GREEN, r: 3, ring: true, bw: 2.3, order: 3 },
      ...pfrSeries,
    ],
    legends: [
      { mx: 428, tx: 449, ys: [74, 91, 108], items: [
        { label: 'POM_DE', color: ORANGE },
        { label: 'POM_IT', color: BLUE },
        { label: 'POM_JP', color: GREEN, ring: true },
      ] },
      { mx: 93, tx: 113, ys: [281, 298, 316, 333], items: pfrLegend },
    ],
  },
  {
    left: 0, top: 390, w: 568, h: 386, area: { l: 75, r: 505, t: 63, b: 348 },
    t1y: 27, t2y: 45, title2: 'Instrument type: SPO,  Wavelength: 500.6  ± 5nm',
    letter: '(c)', lx: 6, ly: 47, yTitlePad: 11, xTitlePad: 1, xTickPad: 3, yTickPad: 4, wmoW: 2.5,
    series: [
      { label: 'SPO_US_1', rows: spoUs1, color: BLUE, r: 2.3, order: 1 },
      { label: 'SPO_AU_1', rows: spoAu1, color: ORANGE, r: 2.3, order: 2 },
      ...pfrSeries,
    ],
    legends: [
      { mx: 404, tx: 425, ys: [79, 97], items: [
        { label: 'SPO_AU_1', color: ORANGE },
        { label: 'SPO_US_1', color: BLUE },
      ] },
      { mx: 90, tx: 110, ys: [287, 304, 321, 338], items: pfrLegend },
    ],
  },
  {
    left: 570, top: 390, w: 567, h: 386, area: { l: 82, r: 515, t: 67, b: 353 },
    t1y: 31, t2y: 50, title2: 'Instrument type:MFR,    Wavelength: 500.6  ± 5nm',
    letter: '(d)', lx: 18, ly: 58, yTitlePad: 17, xTitlePad: 0, xTickPad: 5, yTickPad: 5, wmoW: 2.5,
    series: [
      { label: 'MFR_DE', rows: mfrDe, color: CRIMSON, r: 1.8, order: 1 },
      { label: 'MFR_US_1', rows: mfrUs1, color: BLUE, r: 2, order: 2 },
      { label: 'MFR_US_3', rows: mfrUs3, color: GREEN, r: 2, order: 3 },
      { label: 'MFR_US_2', rows: mfrUs2, color: ORANGE, r: 2, order: 4 },
      ...pfrSeries,
    ],
    legends: [
      { mx: 96, tx: 115, ys: [83, 100, 117, 134], items: [
        { label: 'MFR_DE', color: CRIMSON },
        { label: 'MFR_US_1', color: BLUE },
        { label: 'MFR_US_2', color: ORANGE },
        { label: 'MFR_US_3', color: GREEN },
      ] },
      { mx: 92, tx: 113, ys: [289, 306, 323, 340], items: pfrLegend },
    ],
  },
];

const TITLE1 = 'FRC-IV, Davos 28 Sep to 16 Oct 2015';

function makeOverlay(p: PanelCfg) {
  return {
    id: 'overlay',
    afterDatasetsDraw(chart: any) {
      const ctx = chart.ctx as CanvasRenderingContext2D;
      const ca = chart.chartArea;
      ctx.save();
      ctx.strokeStyle = '#333333';
      ctx.lineWidth = 1.3;
      ctx.strokeRect(ca.left, ca.top, ca.right - ca.left, ca.bottom - ca.top);
      const cx = (ca.left + ca.right) / 2;
      ctx.textAlign = 'center';
      ctx.textBaseline = 'middle';
      ctx.font = `12.5px ${FONT}`;
      ctx.fillStyle = TITLE_BLUE;
      ctx.fillText(TITLE1, cx, p.t1y);
      ctx.fillStyle = TITLE_RED;
      ctx.fillText(p.title2, cx, p.t2y);
      ctx.textAlign = 'left';
      ctx.font = `14px ${FONT}`;
      ctx.fillStyle = TXT;
      ctx.fillText(p.letter, p.lx, p.ly);
      ctx.font = `12.5px ${FONT}`;
      for (const lg of p.legends) {
        let maxW = 0;
        for (const it of lg.items) maxW = Math.max(maxW, ctx.measureText(it.label).width);
        const bx0 = Math.max(ca.left + 1, lg.mx - 12);
        const bx1 = Math.min(ca.right - 1, lg.tx + maxW + 8);
        const by0 = Math.max(ca.top + 1, lg.ys[0] - 10);
        const by1 = Math.min(ca.bottom - 1, lg.ys[lg.ys.length - 1] + 10);
        ctx.fillStyle = '#ffffff';
        ctx.fillRect(bx0, by0, bx1 - bx0, by1 - by0);
        lg.items.forEach((it, i) => {
          const y = lg.ys[i];
          ctx.beginPath();
          if (it.ring) {
            ctx.arc(lg.mx, y, 4.8, 0, Math.PI * 2);
            ctx.lineWidth = 2.6;
            ctx.strokeStyle = it.color;
            ctx.stroke();
          } else {
            ctx.arc(lg.mx, y, 6, 0, Math.PI * 2);
            ctx.fillStyle = it.color;
            ctx.fill();
          }
          ctx.fillStyle = TXT;
          ctx.textBaseline = 'middle';
          ctx.fillText(it.label, lg.tx, y);
        });
      }
      ctx.restore();
    },
  };
}

function Panel({ p }: { p: PanelCfg }) {
  const ref = useRef<HTMLCanvasElement | null>(null);
  useEffect(() => {
    if (!ref.current) return;
    const datasets: any[] = [
      {
        label: 'WMO limit upper',
        data: wmoX.map((x, i) => ({ x, y: wmoUpper[i] })),
        showLine: true, borderColor: '#000000', borderWidth: p.wmoW, pointRadius: 0,
        tension: 0.4, fill: false, order: 0,
      },
      {
        label: 'WMO limit lower',
        data: wmoX.map((x, i) => ({ x, y: wmoLower[i] })),
        showLine: true, borderColor: '#000000', borderWidth: p.wmoW, pointRadius: 0,
        tension: 0.4, fill: false, order: 0,
      },
      ...p.series.map((s) => ({
        label: s.label,
        data: pts(s.rows),
        showLine: false,
        order: s.order,
        pointRadius: s.r,
        pointHoverRadius: s.r,
        pointBackgroundColor: s.ring ? 'rgba(0,0,0,0)' : s.color,
        backgroundColor: s.ring ? 'rgba(0,0,0,0)' : s.color,
        pointBorderColor: s.color,
        borderColor: s.color,
        pointBorderWidth: s.ring ? (s.bw || 1.5) : 0,
      })),
    ];
    const chart = new Chart(ref.current, {
      type: 'scatter',
      data: { datasets },
      options: {
        animation: false,
        responsive: false,
        devicePixelRatio: 1,
        events: [],
        layout: { padding: { left: 0, right: p.w - p.area.r, top: p.area.t, bottom: 0 } },
        plugins: { legend: { display: false }, tooltip: { enabled: false }, title: { display: false } },
        scales: {
          x: {
            type: 'linear', min: 4, max: 18,
            afterBuildTicks: (s: any) => { s.ticks = xTicks.map((v) => ({ value: v })); },
            afterFit: (s: any) => { s.height = p.h - p.area.b; },
            grid: { color: GRID, lineWidth: 1, drawTicks: false },
            border: { display: false },
            ticks: {
              padding: p.xTickPad, color: TXT, maxRotation: 0, autoSkip: false,
              font: { family: FONT, size: 12.5 },
              callback: (_v: any, i: number) => xTickLabels[i],
            },
            title: {
              display: true, text: 'Time (hours,UTC)', color: TXT,
              font: { family: FONT, size: 13 }, padding: { top: 0, bottom: p.xTitlePad },
            },
          },
          y: {
            type: 'linear', min: yMin, max: yMax,
            afterBuildTicks: (s: any) => { s.ticks = yTicks.map((v) => ({ value: v })); },
            afterFit: (s: any) => { s.width = p.area.l; },
            grid: { color: GRID, lineWidth: 1, drawTicks: false },
            border: { display: false },
            ticks: {
              padding: p.yTickPad, color: TXT, autoSkip: false,
              font: { family: FONT, size: 12.5 },
              callback: (_v: any, i: number) => yTickLabels[i],
            },
            title: {
              display: true, text: 'Difference in  AOD (Instrument − TRIAD)', color: TXT,
              font: { family: FONT, size: 13 }, padding: { top: p.yTitlePad, bottom: 0 },
            },
          },
        },
      } as any,
      plugins: [makeOverlay(p)],
    });
    return () => chart.destroy();
  }, [p]);
  return (
    <canvas
      ref={ref}
      width={p.w}
      height={p.h}
      style={{ position: 'absolute', left: p.left, top: p.top, width: p.w, height: p.h }}
    />
  );
}

export default function App() {
  return (
    <div style={{ position: 'absolute', left: 0, top: 0, width: 1137, height: 776, background: '#ffffff', overflow: 'hidden' }}>
      {panels.map((p) => (
        <Panel key={p.letter} p={p} />
      ))}
    </div>
  );
}
